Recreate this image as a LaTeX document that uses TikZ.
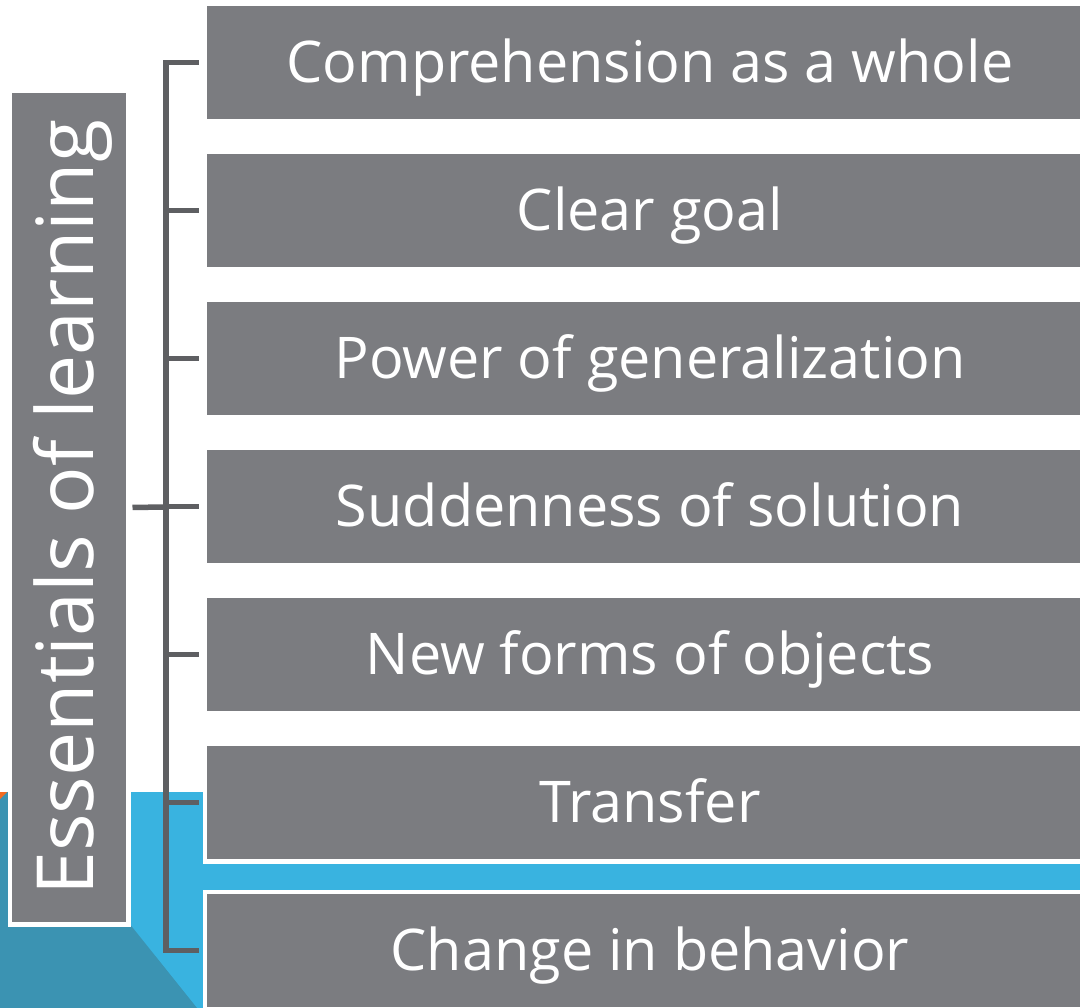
\documentclass[tikz,border=0pt]{standalone}
\usepackage{fontspec}
\setmainfont{Open Sans}
\usepackage{xcolor}
\usepackage{tikz}
\usetikzlibrary{positioning,calc}
\definecolor{boxgray}{HTML}{7B7C80}
\definecolor{linegray}{HTML}{5E5F62}
\definecolor{skyblue}{HTML}{39B3E0}
\definecolor{deepteal}{HTML}{3B93B2}
\definecolor{accent}{HTML}{F26B21}
\tikzstyle{item}= [rectangle, draw=white, line width=4.5pt, fill=boxgray, text=white, inner sep=0pt, minimum width=890pt, minimum height=117.5pt, text height=44pt, text depth=4pt, font=\fontsize{57.5}{60}\selectfont]
\tikzstyle{link}= [draw=linegray, line width=5.5pt]

\begin{document}
\begin{tikzpicture}[x=1pt, y=-1pt]
				\clip (0,0) rectangle (1080,1008);
				\fill[white] (0,0) rectangle (1080,1008);
				\fill[skyblue] (0,792) rectangle (1080,1008);
				\fill[deepteal] (0,792) -- (24,792) -- (197,1008) -- (0,1008) -- cycle;
				\fill[accent] (0,792) -- (7,792) -- (0,799) -- cycle;
				\node[item] (b1) at (650, 62.5) {Comprehension as a whole};
				\node[item] (b2) at (650, 210.5) {Clear goal};
				\node[item] (b3) at (650, 358.5) {Power of generalization};
				\node[item] (b4) at (650, 506.5) {Suddenness of solution};
				\node[item] (b5) at (650, 654.5) {New forms of objects};
				\node[item] (b6) at (650, 802.5) {Transfer};
				\node[item] (b7) at (650, 950.5) {Change in behavior};
				\node[item, rotate=90, minimum width=833.5pt, minimum height=118.5pt, text height=56pt, text depth=8pt, font=\fontsize{78.8}{80}\selectfont] (ess) at (69, 507.5) {Essentials of learning};
				\coordinate (spine) at (166, 507);
				\draw[link, shorten <=4pt, shorten >=4pt] (b1.west) -| (spine) |- (b7.west);
				\draw[link, shorten <=4pt] (b2.west) -- (b2.west -| spine);
				\draw[link, shorten <=4pt] (b3.west) -- (b3.west -| spine);
				\draw[link, shorten <=4pt] (b4.west) -- (b4.west -| spine);
				\draw[link, shorten <=4pt] (b5.west) -- (b5.west -| spine);
				\draw[link, shorten <=4pt] (b6.west) -- (b6.west -| spine);
				\draw[link, shorten <=2pt] (ess.south) -- (spine);
			\end{tikzpicture}
\end{document}
